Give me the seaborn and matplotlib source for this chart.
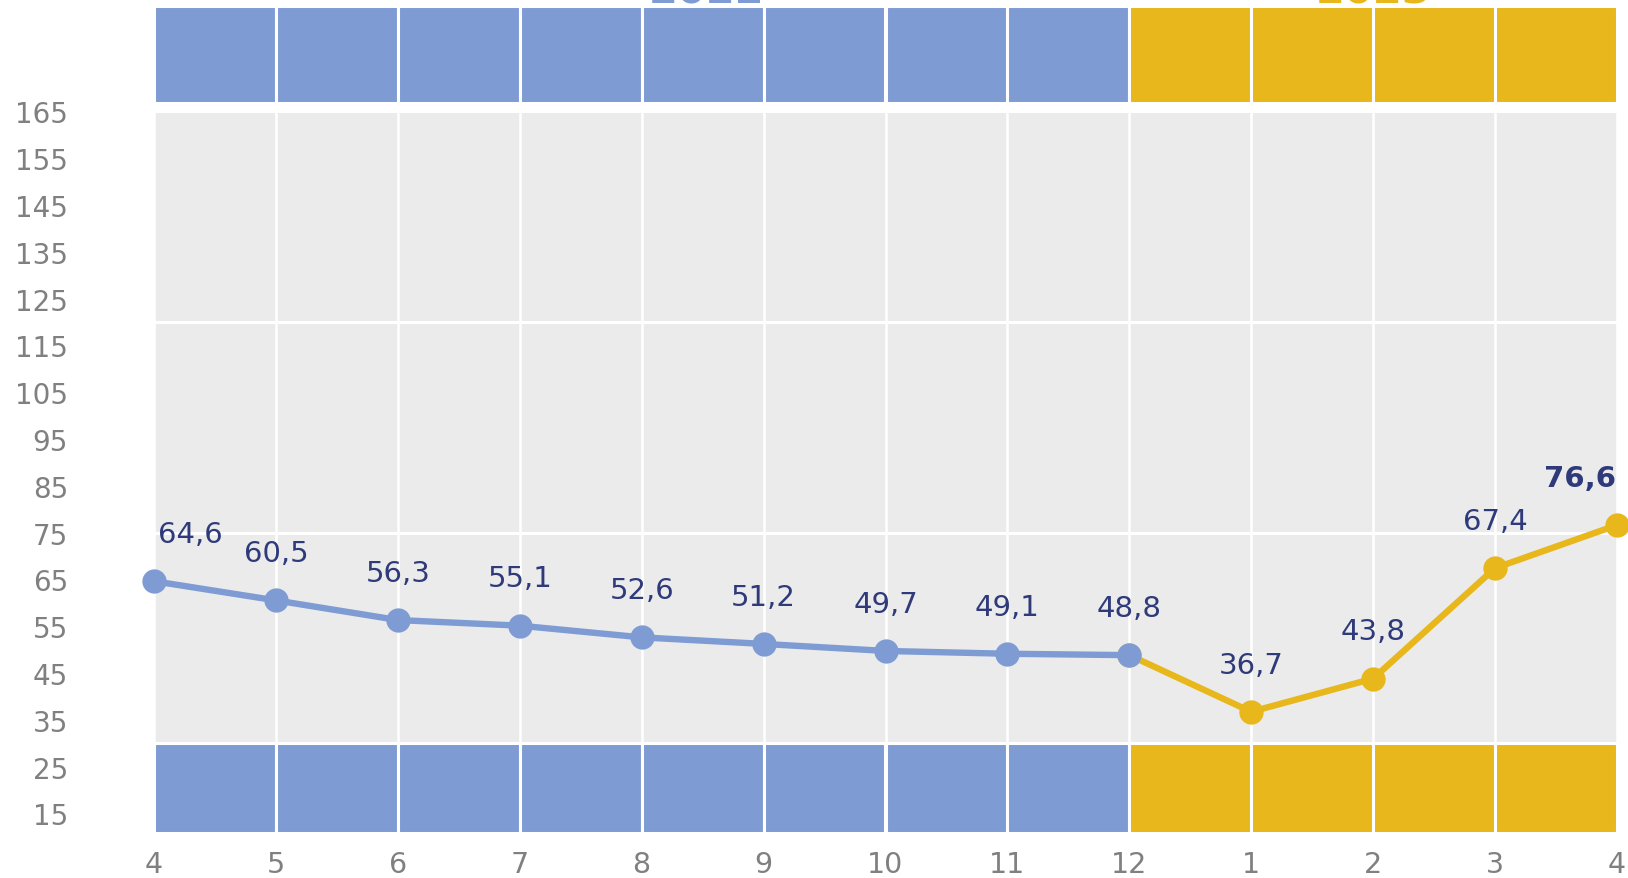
import matplotlib
matplotlib.use("Agg")
import matplotlib.pyplot as plt
import seaborn as sns
import pandas as pd
import numpy as np

# ---- data ----
month_labels = ["4", "5", "6", "7", "8", "9", "10", "11", "12", "1", "2", "3", "4"]
values = [64.6, 60.5, 56.3, 55.1, 52.6, 51.2, 49.7, 49.1, 48.8, 36.7, 43.8, 67.4, 76.6]
value_labels = ["64,6", "60,5", "56,3", "55,1", "52,6", "51,2", "49,7", "49,1", "48,8",
                "36,7", "43,8", "67,4", "76,6"]
year_labels = ["2022", "2023"]
y_ticks = [15, 25, 35, 45, 55, 65, 75, 85, 95, 105, 115, 125, 135, 145, 155, 165]

BLUE = "#7E9CD3"
YELLOW = "#E8B71B"
NAVY = "#2E3A7A"
GRAY_TXT = "#808080"
BG = "#EBEBEB"

sns.set_theme(style="white")
plt.rcParams["font.family"] = ["DejaVu Sans"]

fig = plt.figure(figsize=(16.28, 8.79), dpi=100)
ax = fig.add_axes([154 / 1628, 45 / 879, (1617 - 154) / 1628, 1 - 45 / 879])

n = len(values)
x = np.arange(n)
split = 8  # index where the second year starts

ymin, ymax = 10.8, 189.0
ax.set_xlim(0, n - 1)
ax.set_ylim(ymin, ymax)
ax.set_facecolor("white")

# gray plotting area
ax.bar((n - 1) / 2, 164.6 - 30, bottom=30, width=n - 1, color=BG, linewidth=0, zorder=0)

# bands (bottom and top), one cell per month interval
cells = np.arange(n - 1) + 0.5
cell_colors = [BLUE if i < split else YELLOW for i in range(n - 1)]
band_df = pd.DataFrame({"x": cells, "color": cell_colors})
ax.bar(band_df["x"], 30 - ymin, bottom=ymin, width=1.0, color=band_df["color"],
       edgecolor="white", linewidth=2.2, zorder=1)
ax.bar(band_df["x"], 187.4 - 166.8, bottom=166.8, width=1.0, color=band_df["color"],
       edgecolor="white", linewidth=2.2, zorder=1)

# grid lines
for xv in x:
    ax.plot([xv, xv], [30, 164.6], color="white", lw=1.8, zorder=1)
for yv in [75, 120]:
    ax.plot([0, n - 1], [yv, yv], color="white", lw=2.2, zorder=1)

# line series
df = pd.DataFrame({"x": x, "v": values})
seg1 = df.iloc[: split + 1]
seg2 = df.iloc[split:]
sns.lineplot(data=seg2, x="x", y="v", ax=ax, color=YELLOW, lw=4.6, marker="o",
             markersize=17.5, markeredgewidth=0, zorder=3, clip_on=False)
sns.lineplot(data=seg1, x="x", y="v", ax=ax, color=BLUE, lw=4.6, marker="o",
             markersize=17.5, markeredgewidth=0, zorder=4, clip_on=False)

# data labels
for i, (xv, v, lab) in enumerate(zip(x, values, value_labels)):
    dx = 0
    if i == 0:
        dx = 26
    elif i == n - 1:
        dx = -27
    ax.annotate(lab, (xv, v), xytext=(dx, 34), textcoords="offset points",
                ha="center", va="center", fontsize=21, color=NAVY,
                fontweight="bold" if i == n - 1 else "normal", zorder=5,
                annotation_clip=False)

# year labels (mostly cut off at the top, as in the source)
ax.annotate(year_labels[0], (4.53, 1.0), xycoords=ax.get_xaxis_transform(),
            xytext=(0, -4), textcoords="offset pixels", ha="center", va="baseline",
            fontsize=30, fontweight="bold", color=BLUE, annotation_clip=False,
            zorder=0.5)
ax.annotate(year_labels[1], (10.0, 1.0), xycoords=ax.get_xaxis_transform(),
            xytext=(0, -4), textcoords="offset pixels", ha="center", va="baseline",
            fontsize=30, fontweight="bold", color=YELLOW, annotation_clip=False,
            zorder=0.5)

ax.set_xticks(x)
ax.set_xticklabels(month_labels)
ax.set_yticks(y_ticks)
ax.set_yticklabels([str(t) for t in y_ticks])
ax.tick_params(axis="x", length=0, pad=12, labelsize=20.5, labelcolor=GRAY_TXT)
ax.tick_params(axis="y", length=0, pad=62, labelsize=20, labelcolor=GRAY_TXT)
ax.set_xlabel("")
ax.set_ylabel("")
for s in ax.spines.values():
    s.set_visible(False)

fig.savefig("out.png", dpi=100)
